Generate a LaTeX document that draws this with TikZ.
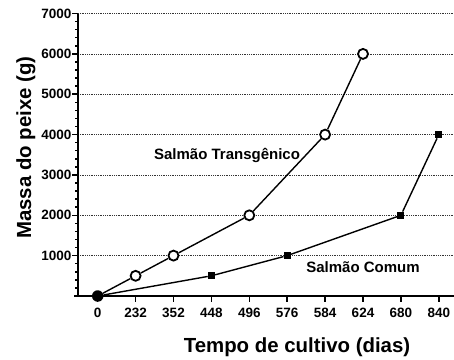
\documentclass[tikz,border=0pt]{standalone}
\usepackage{fontspec}
\setmainfont{Liberation Sans}
\begin{document}
\begin{tikzpicture}[x=1pt,y=-1pt,
 axisline/.style={line width=1.8pt, black},
 gridline/.style={line width=0.6pt, black!80, dash pattern=on 0.9pt off 0.9pt},
 tickline/.style={line width=1.5pt, black},
 seriesline/.style={line width=1.4pt, black},
 opencirc/.style={circle, draw=black, fill=white, line width=1.8pt, minimum size=10pt, inner sep=0pt},
 fillsq/.style={rectangle, fill=black, minimum size=7pt, inner sep=0pt},
 origindot/.style={circle, fill=black, minimum size=11.5pt, inner sep=0pt},
 ticklab/.style={font=\fontsize{13.5}{15}\selectfont\bfseries, inner sep=0pt},
 serieslab/.style={font=\fontsize{15}{18}\selectfont\bfseries, inner sep=0pt},
 titlelab/.style={font=\fontsize{20.4}{24}\selectfont\bfseries, inner sep=0pt}]
\useasboundingbox (0,0) rectangle (454,359);
% grid lines and y tick labels
\foreach \v in {1000,2000,...,7000}{
  \pgfmathsetmacro{\yy}{296-\v*0.040357}
  \draw[gridline] (78,\yy) -- (454,\yy);
}
\foreach \v in {0,200,...,7000}{
  \pgfmathsetmacro{\yy}{296-\v*0.040357}
  \draw[tickline] (75,\yy) -- (78,\yy);
}
\foreach \v in {1000,2000,...,7000}{
  \pgfmathsetmacro{\yy}{296-\v*0.040357}
  \draw[tickline] (72,\yy) -- (78,\yy);
  \node[ticklab, anchor=east] (yl\v) at (71.5,\yy) {\v};
}
% axes
\coordinate (ytop) at (78,13.5);
\coordinate (ybot) at (78,296);
\coordinate (xl) at (74,296);
\coordinate (xr) at (454,296);
\draw[axisline] (ybot) -- (ytop);
\draw[axisline] (xl) -- (xr);
% x ticks and labels
\foreach \lab [count=\i from 0] in {0,232,352,448,496,576,584,624,680,840}{
  \pgfmathsetmacro{\xx}{97.7+37.9*\i}
  \draw[tickline] (\xx,296) -- (\xx,302);
  \node[ticklab] (xl\i) at (\xx,313) {\lab};
}
% titles
\node[titlelab, anchor=base] (xtitle) at (297,352) {Tempo de cultivo (dias)};
\node[titlelab, anchor=base, rotate=90] (ytitle) at (31,147.5) {Massa do peixe (g)};
% series labels
\node[serieslab, anchor=base] (labT) at (227,159) {Salmão Transgênico};
\node[serieslab, anchor=base] (labC) at (363,272.5) {Salmão Comum};
% data markers
\node[origindot] (o) at (97.7,296) {};
\node[opencirc] (t1) at (135.6,275.8) {};
\node[opencirc] (t2) at (173.5,255.6) {};
\node[opencirc] (t3) at (249.3,215.3) {};
\node[opencirc] (t4) at (325.1,134.6) {};
\node[opencirc] (t5) at (363.0,53.9) {};
\node[fillsq] (c1) at (211.4,275.8) {};
\node[fillsq] (c2) at (287.2,255.6) {};
\node[fillsq] (c3) at (400.9,215.3) {};
\node[fillsq] (c4) at (438.8,134.6) {};
% series lines
\draw[seriesline] (o) -- (t1) -- (t2) -- (t3) -- (t4) -- (t5);
\draw[seriesline] (o) -- (c1) -- (c2) -- (c3) -- (c4);
\end{tikzpicture}
\end{document}
